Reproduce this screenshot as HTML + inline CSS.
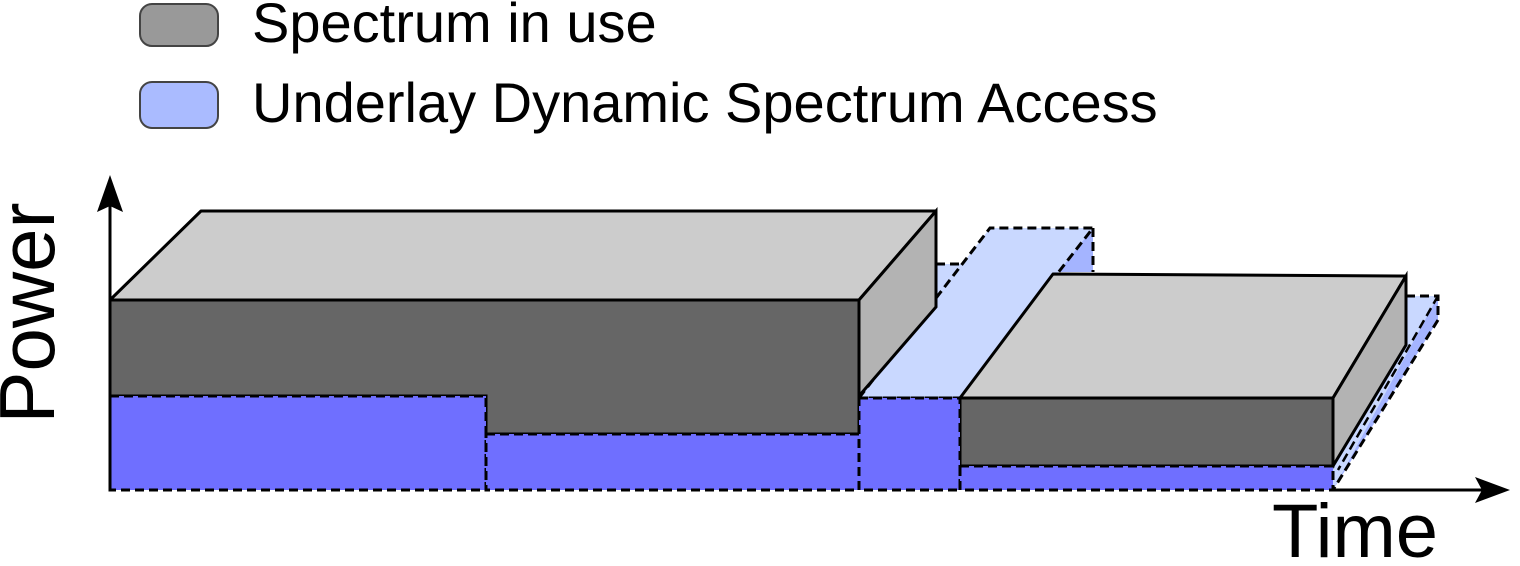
<!DOCTYPE html>
<html><head><style>html,body{margin:0;padding:0;background:#fff}</style></head>
<body>
<svg width="1520" height="561" viewBox="0 0 1520 561" xmlns="http://www.w3.org/2000/svg" font-family="Liberation Sans, sans-serif">
<rect x="140" y="4" width="78" height="42" rx="12" fill="#999" stroke="#444" stroke-width="2"/>
<rect x="140" y="82" width="78" height="46" rx="12" fill="#aabbff" stroke="#444" stroke-width="2"/>
<text x="252" y="42" font-size="56">Spectrum in use</text>
<text x="252" y="122" font-size="56">Underlay Dynamic Spectrum Access</text>

<polygon points="936,264 975,264 936,320" fill="#c9d8ff"/>
<polyline points="936,264 975,264" fill="none" stroke="#000" stroke-width="3" stroke-dasharray="9,5"/>
<polygon points="1093,228 1093,272 1050,272" fill="#a4b4ff"/>
<polygon points="859,398 990,228 1093,228 960,398" fill="#c9d8ff" stroke="#000" stroke-width="3" stroke-dasharray="9,5"/>
<line x1="1093" y1="228" x2="1093" y2="272" stroke="#000" stroke-width="3" stroke-dasharray="9,5"/>

<polygon points="1333,466 1406,340 1406,296 1438,296 1438,320 1333,490" fill="#a4b4ff"/>
<polygon points="1333,466 1406,340 1406,296 1438,296 1333,490" fill="#c9d8ff"/>
<polyline points="1406,296 1438,296 1438,320 1333,490" fill="none" stroke="#000" stroke-width="3" stroke-dasharray="9,5"/>
<line x1="1438" y1="296" x2="1338" y2="470" stroke="#000" stroke-width="2.5" stroke-dasharray="9,5"/>

<polygon points="110,300 201,211 936,211 859,300" fill="#ccc" stroke="#000" stroke-width="3" stroke-linejoin="round"/>
<polygon points="859,300 936,211 936,307 859,396" fill="#b3b3b3" stroke="#000" stroke-width="3"/>
<polygon points="110,300 859,300 859,434 486,434 486,396 110,396" fill="#666" stroke="#000" stroke-width="3"/>

<polygon points="960,398 1053,274 1406,276 1333,398" fill="#ccc" stroke="#000" stroke-width="3" stroke-linejoin="round"/>
<polygon points="1333,398 1406,276 1406,345 1333,466" fill="#b3b3b3" stroke="#000" stroke-width="3"/>
<rect x="960" y="398" width="373" height="68" fill="#666" stroke="#000" stroke-width="3"/>

<g fill="#6f6fff" stroke="#000" stroke-width="3" stroke-dasharray="9,5">
<rect x="110" y="396" width="376" height="94"/>
<rect x="486" y="434" width="373" height="56"/>
<rect x="859" y="398" width="101" height="92"/>
<rect x="960" y="466" width="373" height="24"/>
</g>

<line x1="110" y1="490" x2="110" y2="205" stroke="#000" stroke-width="3"/>
<polygon points="110,175 123,212 110,206 97,212" fill="#000"/>
<line x1="1333" y1="490" x2="1485" y2="490" stroke="#000" stroke-width="3"/>
<polygon points="1510,490 1475,503 1482,490 1475,477" fill="#000"/>

<text transform="translate(54,313) rotate(-90)" text-anchor="middle" font-size="78">Power</text>
<text x="1272" y="557" font-size="76">Time</text>
</svg>
</body></html>
